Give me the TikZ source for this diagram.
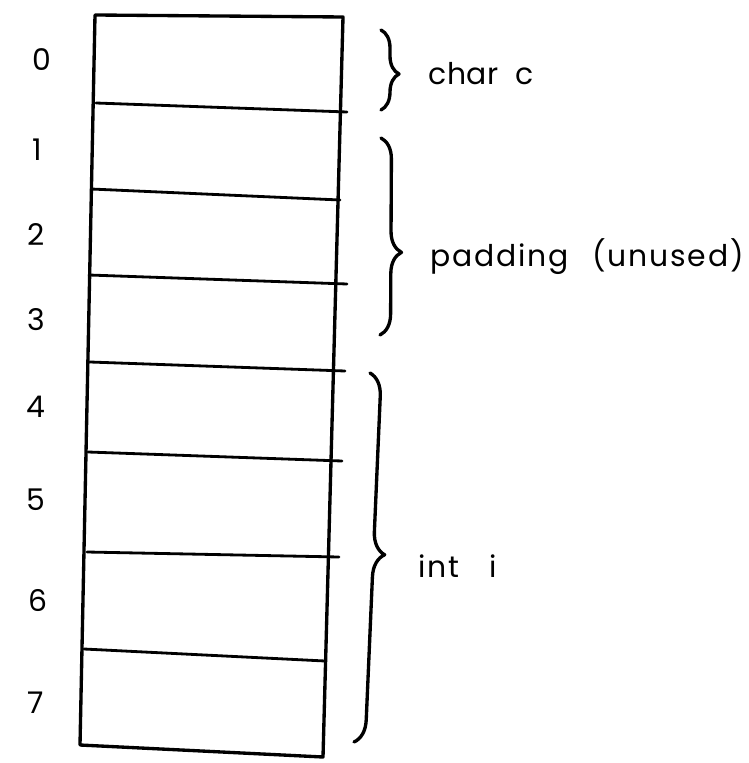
\documentclass[tikz,border=0pt]{standalone}
\usepackage{fontspec}
\setmainfont{Poppins}
\usetikzlibrary{decorations.pathreplacing}
\begin{document}
\begin{tikzpicture}[x=0.02cm,y=-0.02cm,
  ink/.style={line width=1.9pt, line cap=round, line join=round},
  rowline/.style={line width=1.6pt, line cap=round},
  idx/.style={font=\fontsize{17}{20}\selectfont, inner sep=0pt},
  lbl/.style={font=\fontsize{17}{20}\selectfont\addfontfeatures{LetterSpace=6}, anchor=west, inner sep=0pt},
  bracebar/.style={ink, decorate, decoration={brace, amplitude=#1}}]
\useasboundingbox (0,0) rectangle (749,763);
% memory column
\coordinate (tl) at (95,15);
\coordinate (tr) at (343,17);
\coordinate (br) at (323,757);
\coordinate (bl) at (80,745);
\draw[ink] (tl) -- (tr) -- (br) -- (bl) -- cycle;
% row separators
\draw[rowline] (96,103) -- (347,112);
\draw[rowline] (91,189) -- (340,200);
\draw[rowline] (89,275) -- (347,284);
\draw[rowline] (90,362) -- (345,371);
\draw[rowline] (88,452) -- (342,461);
\draw[rowline] (87,552) -- (339,557);
\draw[rowline] (84,649) -- (325,661);
% byte indices
\node[idx] (i0) at (42,60) {0};
\node[idx] (i1) at (37,150) {1};
\node[idx] (i2) at (36,235) {2};
\node[idx] (i3) at (36,320) {3};
\node[idx] (i4) at (36,407) {4};
\node[idx] (i5) at (36,500) {5};
\node[idx] (i6) at (38,601) {6};
\node[idx] (i7) at (36,703) {7};
% braces
\coordinate (b1t) at (381,30);
\coordinate (b1b) at (381,110);
\coordinate (b2t) at (381,138);
\coordinate (b2b) at (380,335);
\coordinate (b3t) at (370,373);
\coordinate (b3b) at (354,742);
\draw[bracebar=0.36cm, decoration={aspect=0.55}] (b1t) -- (b1b);
\draw[bracebar=0.42cm, decoration={aspect=0.58}] (b2t) -- (b2b);
\draw[bracebar=0.45cm, decoration={aspect=0.49}] (b3t) -- (b3b);
% labels
\node[lbl, font=\fontsize{17}{20}\selectfont\addfontfeatures{LetterSpace=2}] (lc) at (428,74) {char\hspace{0.55em}c};
\node[lbl] (lp) at (430,257) {padding\hspace{0.8em}(unused)};
\node[lbl] (li) at (418,566) {int\hspace{1.0em}i};
\end{tikzpicture}
\end{document}
